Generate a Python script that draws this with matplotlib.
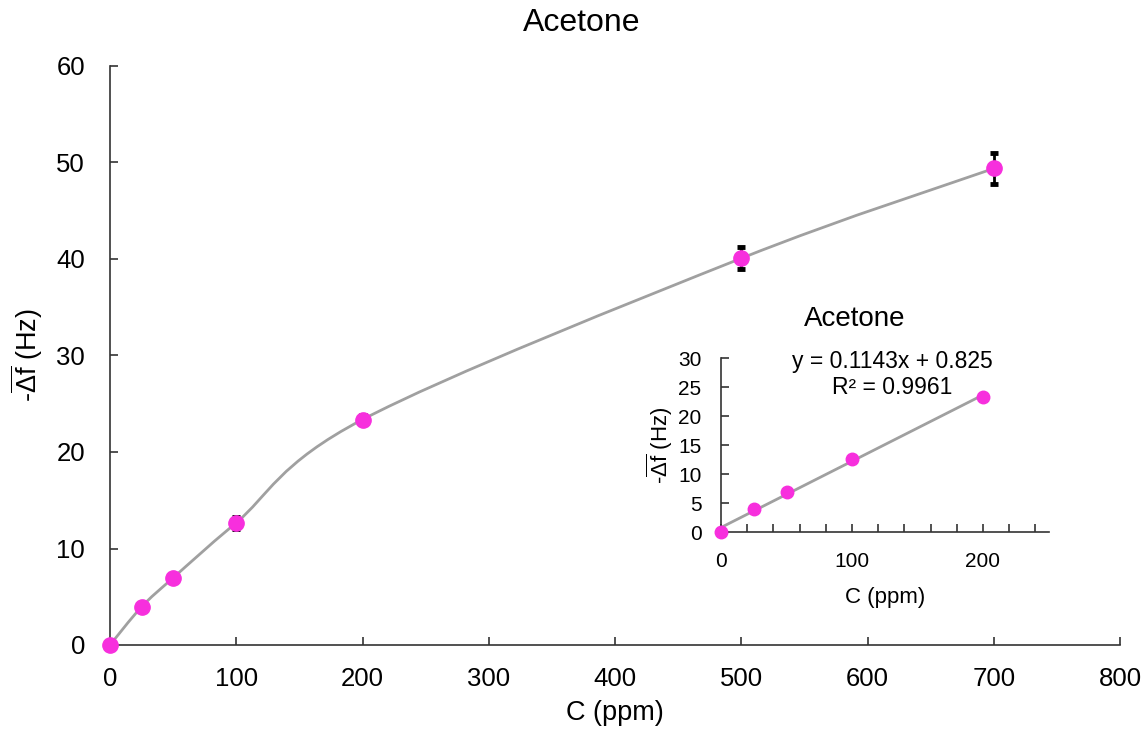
import matplotlib.pyplot as plt
import numpy as np
from matplotlib.path import Path
from matplotlib.patches import PathPatch

plt.rcParams['font.family'] = ['Liberation Sans', 'DejaVu Sans']
plt.rcParams['mathtext.fontset'] = 'custom'
plt.rcParams['mathtext.rm'] = 'Liberation Sans'
plt.rcParams['mathtext.it'] = 'Liberation Sans'

# Data
conc = [0, 25, 50, 100, 200, 500, 700]
shift = [0.0, 3.95, 6.96, 12.67, 23.36, 40.07, 49.38]
shift_err = [0.1, 0.2, 0.2, 0.6, 0.5, 1.15, 1.6]

inset_conc = [0, 25, 50, 100, 200]
inset_shift = [0.0, 3.95, 6.96, 12.67, 23.36]
slope, intercept = 0.1143, 0.825
r2 = 0.9961

pink = '#F72FDD'
grey = '#A0A0A0'
axis_col = '#333333'


def smooth_path(xs, ys):
    # Excel-style smoothed line (Catmull-Rom as cubic Bezier)
    pts = np.column_stack([xs, ys]).astype(float)
    n = len(pts)
    verts = [pts[0]]
    codes = [Path.MOVETO]
    for i in range(n - 1):
        p0 = pts[i - 1] if i > 0 else pts[i]
        p1 = pts[i]
        p2 = pts[i + 1]
        p3 = pts[i + 2] if i + 2 < n else pts[i + 1]
        c1 = p1 + (p2 - p0) / 6.0
        c2 = p2 - (p3 - p1) / 6.0
        verts += [c1, c2, p2]
        codes += [Path.CURVE4] * 3
    return Path(verts, codes)


fig = plt.figure(figsize=(11.48, 7.29), dpi=100)
ax = fig.add_axes([110 / 1148, 84 / 729, 1010 / 1148, 579 / 729])

ax.add_patch(PathPatch(smooth_path(conc, shift), facecolor='none',
                       edgecolor=grey, lw=2, zorder=2))
ax.errorbar(conc, shift, yerr=shift_err, fmt='none', ecolor='black',
            elinewidth=2, capsize=3, capthick=3.5, zorder=3)
ax.plot(conc, shift, 'o', color=pink, ms=11, zorder=4, clip_on=False)

ax.set_xlim(0, 800)
ax.set_ylim(0, 60)
ax.set_xticks(np.arange(0, 801, 100))
ax.set_yticks(np.arange(0, 61, 10))
ax.tick_params(direction='in', length=6, width=1.2, color=axis_col,
               labelsize=18.5)
ax.tick_params(axis='x', pad=16)
ax.tick_params(axis='y', pad=18)
for s in ['top', 'right']:
    ax.spines[s].set_visible(False)
for s in ['left', 'bottom']:
    ax.spines[s].set_color(axis_col)
    ax.spines[s].set_linewidth(1.2)
ax.set_xlabel('C (ppm)', fontsize=19.5, labelpad=6)
ax.set_ylabel(r'-$\overline{\Delta \mathrm{f}}$ (Hz)', fontsize=19.5, labelpad=8)
fig.text(582 / 1148, 1 - 23 / 729, 'Acetone', fontsize=23,
         ha='center', va='center')

# Inset
axi = fig.add_axes([721 / 1148, (729 - 532.3) / 729, 327.5 / 1148, 174 / 729])
xfit = np.array([inset_conc[0], inset_conc[-1]])
axi.plot(xfit, slope * xfit + intercept, color=grey, lw=2, zorder=2)
axi.plot(inset_conc, inset_shift, 'o', color=pink, ms=9, zorder=3,
         clip_on=False)
axi.set_xlim(0, 250)
axi.set_ylim(0, 30)
axi.set_xticks([0, 100, 200])
axi.set_xticks(np.arange(0, 241, 20), minor=True)
axi.set_yticks(np.arange(0, 31, 5))
axi.tick_params(which='both', direction='in', length=6, width=1.2,
                color=axis_col, labelsize=15)
axi.tick_params(axis='x', pad=14)
axi.tick_params(axis='y', pad=14)
for s in ['top', 'right']:
    axi.spines[s].set_visible(False)
for s in ['left', 'bottom']:
    axi.spines[s].set_color(axis_col)
    axi.spines[s].set_linewidth(1.2)
axi.set_xlabel('C (ppm)', fontsize=16, labelpad=12)
axi.set_ylabel(r'-$\overline{\Delta \mathrm{f}}$ (Hz)', fontsize=16, labelpad=2)
axi.text(131, 29.4, f'y = {slope}x + {intercept}', fontsize=16.5,
         ha='center', va='center')
axi.text(131, 25.05, f'R² = {r2}', fontsize=16.5, ha='center', va='center')
axi.text(102, 36.8, 'Acetone', fontsize=20, ha='center', va='center')

fig.savefig('out.png', dpi=100)
